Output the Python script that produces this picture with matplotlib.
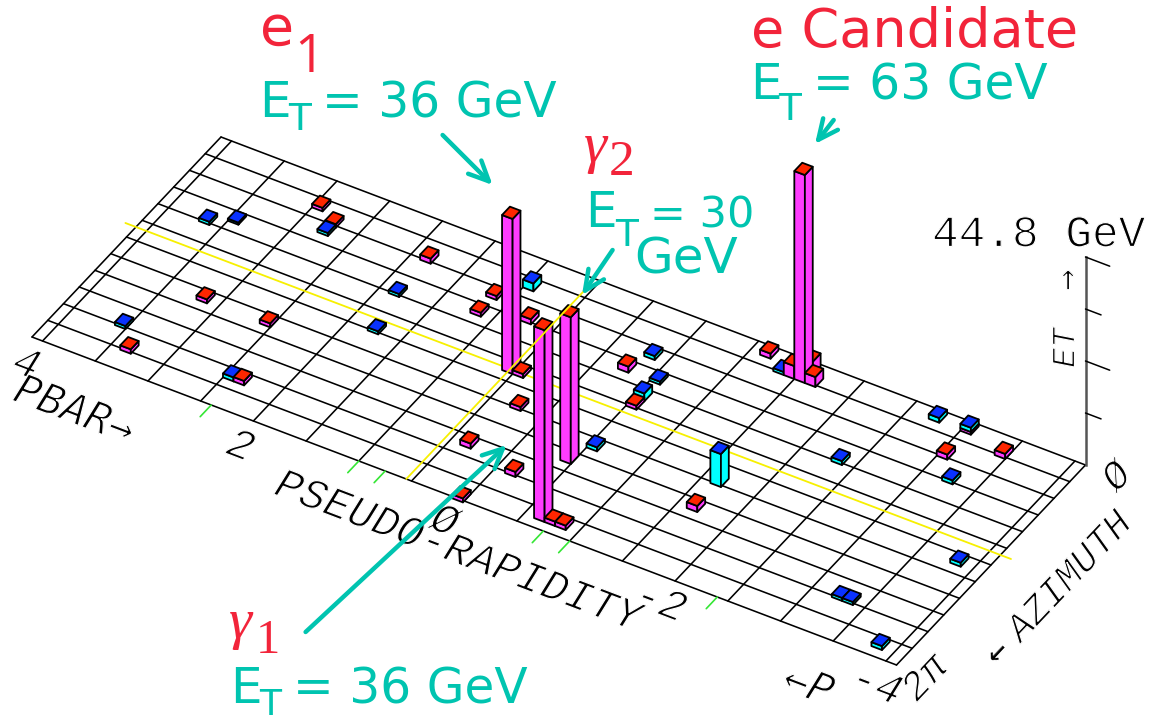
import matplotlib
matplotlib.use("Agg")
import matplotlib.pyplot as plt
import matplotlib.patheffects as pe
from matplotlib.patches import Polygon
import numpy as np

# ---------- data ----------
tower_eta = [3.65, 3.45, 2.95, 2.75, 2.75, 1.85, 1.85, 3.15, 2.55, 1.75, 3.55, 3.35, 2.45, 2.35,
             1.15, 0.95, 1.15, 0.75, 0.45, 0.25, 0.55, -0.65, -0.75, -0.85, -0.45,
             -1.15, -1.35, -1.45, -1.55, -1.55, -1.65, -0.35, -0.25, -0.55, -0.55, -0.55,
             -2.75, -3.05, -3.05, -3.45, -3.25, -2.35, -0.55, -1.65, -1.65, -3.85, -3.25, -3.35, -3.85,
             0.35, -0.15, 0.05]
tower_phi = [112.5, 97.5, 37.5, 52.5, 67.5, 52.5, 112.5, 217.5, 217.5, 172.5, 292.5, 322.5, 307.5, 307.5,
             67.5, 37.5, 97.5, 82.5, 157.5, 202.5, 157.5, 337.5, 337.5, 337.5, 247.5,
             7.5, 22.5, 22.5, 7.5, 22.5, 22.5, 67.5, 97.5, 97.5, 127.5, 142.5,
             7.5, 7.5, 52.5, 22.5, 82.5, 112.5, 217.5, 202.5, 247.5, 187.5, 292.5, 292.5, 337.5,
             277.5, 292.5, 352.5]
tower_em = [0, 0, 0.75, 0.75, 0, 1.1, 0, 0.85, 0.85, 0, 0, 0.95, 0, 0.95,
            0.85, 0, 0.85, 1.1, 0.85, 0.85, 33.4, 41.3, 0.95, 0.95, 31.6,
            1.1, 0, 2.8, 2.8, 44.8, 2.15, 0, 1.3, 0, 0, 0.85,
            0, 0.6, 1.1, 1.1, 0, 0, 0, 0, 1.3, 0, 0, 0, 0,
            1.1, 1.1, 0.85]
tower_had = [0.7, 0.45, 0, 0, 0.65, 0, 0.65, 0, 0, 0.65, 0.65, 0, 0.85, 0,
             0, 1.7, 0, 0, 0, 0, 0, 0, 0, 0, 0,
             0, 0.65, 0, 0, 0, 0, 0.85, 0, 0.65, 1.7, 0,
             1.0, 0.9, 0, 0, 0.85, 0.85, 0.85, 7.1, 0, 0.85, 0.65, 0.65, 0.85,
             0, 0, 0]
eta_ticks = [4.0 - 0.5 * i for i in range(17)]
phi_ticks = [30 * i for i in range(13)]
marker_eta = [2.4, 1.0, 0.75, -0.75, -1.0, -2.4]
et_ticks = [0, 11.2, 22.4, 33.6, 44.8]
yellow_phi = 162.0
yellow_eta = 0.55

# ---------- view ----------
ORIGIN = np.array([221.0, 137.0])
EU = np.array([864.5, 328.0])
EV = np.array([-189.0, 200.0])
ETA_MAX = 4.1
PX_PER_GEV = 208.0 / 44.8
PHI_SHIFT = 2.5

def project(eta, phi, et=0.0):
    u = (ETA_MAX - eta) / (2 * ETA_MAX)
    v = phi / 360.0
    p = ORIGIN + u * EU + v * EV
    return p[0], p[1] - et * PX_PER_GEV

fig = plt.figure(figsize=(11.59, 7.23), dpi=100)
ax = fig.add_axes([0, 0, 1, 1])
ax.set_xlim(0, 1159)
ax.set_ylim(723, 0)
ax.axis("off")

RED, BLUE, MAG, CYAN = "#FF2600", "#0A32FF", "#FF3CFF", "#00FFFF"
TEAL, LABELRED = "#00C4B0", "#F2243A"

def seg(a, b, **kw):
    ax.plot([a[0], b[0]], [a[1], b[1]], solid_capstyle="round", **kw)

# grid
gkw = dict(color="black", lw=1.15, zorder=2)
for e in [ETA_MAX] + eta_ticks + [-ETA_MAX]:
    seg(project(e, 0), project(e, 360), **gkw)
for ph in phi_ticks:
    seg(project(ETA_MAX, ph), project(-ETA_MAX, ph), **gkw)
for e in marker_eta:
    seg(project(e, 360), project(e, 381), color="#35E635", lw=1.2, zorder=2)

# yellow long line (under the towers)
seg(project(4.2, yellow_phi), project(-4.2, yellow_phi), color="#F7F000", lw=1.3, zorder=3)

# towers, back to front
def face(pts, col, z):
    ax.add_patch(Polygon(pts, closed=True, facecolor=col, edgecolor="black", lw=1.3,
                         joinstyle="round", zorder=z))

DETA, DPHI = 0.1, 15.0
order = sorted(range(len(tower_eta)),
               key=lambda i: (ETA_MAX - tower_eta[i]) / (2 * ETA_MAX) * EU[1] + tower_phi[i] / 360 * EV[1])
for k, i in enumerate(order):
    e, ph = tower_eta[i], tower_phi[i] + PHI_SHIFT
    em, had = tower_em[i], tower_had[i]
    z = 10 + k
    eL, eR = e + DETA / 2, e - DETA / 2
    p0, p1 = ph - DPHI / 2, ph + DPHI / 2
    levels = []
    if em > 0:
        levels.append((0, em, MAG))
    if had > 0:
        levels.append((em, em + had, CYAN))
    for lo, hi, col in levels:
        face([project(eL, p1, lo), project(eR, p1, lo), project(eR, p1, hi), project(eL, p1, hi)], col, z)
        face([project(eR, p1, lo), project(eR, p0, lo), project(eR, p0, hi), project(eR, p1, hi)], col, z)
    top = em + had
    face([project(eL, p0, top), project(eR, p0, top), project(eR, p1, top), project(eL, p1, top)],
         BLUE if had > 0 else RED, z)

# yellow cross line (drawn over towers)
seg(project(yellow_eta, 360), project(yellow_eta, 21), color="#F7F000", lw=1.3, zorder=90)

# ET axis
base = project(-ETA_MAX, 0)
ax.plot([base[0], base[0]], [base[1], base[1] - 44.8 * PX_PER_GEV], color="#555555", lw=1.8, zorder=5)
for j, t in enumerate(et_ticks[1:]):
    ln = 0.028 if j % 2 else 0.018
    a = np.array([base[0], base[1] - t * PX_PER_GEV])
    b = a + ln * EU
    seg(a, b, color="black", lw=1.1, zorder=5)

# axis texts
thin = [pe.Normal(), pe.Stroke(linewidth=0.9, foreground="white")]
MONO = ["Liberation Mono", "DejaVu Sans Mono"]
MONO2 = ["DejaVu Sans Mono"]
ROT_E = -20.8
ROT_P = 46.6

def axtext(x, y, s, size=31, rot=ROT_E, style="italic", fam=MONO, effects=thin):
    ax.text(x, y, s, fontsize=size, rotation=rot, rotation_mode="anchor", ha="center", va="center",
            family=fam, style=style, color="black", path_effects=effects, zorder=95)

axtext(26, 365, "4")
axtext(74, 411, "PBAR\u2192", fam=MONO2, size=30)
axtext(240, 447, "2")
axtext(457, 552, "PSEUDO-RAPIDITY")
axtext(444, 522, "\u00d8")
axtext(660, 603, "-2")
axtext(808, 686, "\u2190P", fam=MONO2, size=30)
axtext(876, 686, "-4")
axtext(925, 678, "2\u03c0", size=29, rot=ROT_P)
axtext(1070, 577, "AZIMUTH", size=28, rot=ROT_P)
axtext(998, 652, "\u2190", size=24, rot=ROT_P, fam=MONO2, effects=None)
axtext(1117, 477, "\u00d8", size=29, rot=ROT_P)
axtext(1066, 348, "ET", size=24, rot=90)
axtext(1068, 280, "\u2192", size=26, rot=90, style="normal", fam=MONO2, effects=thin)
ax.text(932, 235, "44.8 GeV", fontsize=32, family=MONO, ha="left", va="center", color="black",
        path_effects=thin, zorder=95)

# annotations
SANS = "DejaVu Sans"
SERIF = "Liberation Serif"
def lab(x, y, s, size=35, col=TEAL, fam=SANS, **kw):
    ax.text(x, y, s, fontsize=size, color=col, family=fam, ha="left", va="baseline", zorder=100, **kw)

lab(260, 45, "e", col=LABELRED, size=40)
lab(294, 72, "1", col=LABELRED, size=38, fam="Open Sans")
lab(259, 117, "E", size=36); lab(288, 130, "T", size=27); lab(322, 117, "= 36 GeV")

lab(751, 47, "e Candidate", col=LABELRED, size=39)
lab(750, 99, "E", size=36); lab(778, 120, "T", size=27); lab(813, 99, "= 63 GeV")

lab(584, 162, "\u03b3", col=LABELRED, size=42, fam=SERIF, style="italic")
lab(609, 175, "2", col=LABELRED, size=37, fam=SERIF)
lab(585, 227, "E", size=36); lab(615, 246, "T", size=27); lab(650, 227, "= 30", size=31)
lab(634, 273, "GeV", size=36)

lab(229, 638, "\u03b3", col=LABELRED, size=42, fam=SERIF, style="italic")
lab(256, 653, "1", col=LABELRED, size=35, fam=SERIF)
lab(230, 703, "E", size=36); lab(259, 715, "T", size=26); lab(293, 703, "= 36 GeV")

# arrows
for start, end in [((442.6, 135), (492.6, 185)), ((833.7, 120), (815, 144)),
                   ((612.6, 250), (582, 295)), ((305.6, 632), (506.7, 445))]:
    ax.annotate("", xy=end, xytext=start, zorder=99,
                arrowprops=dict(arrowstyle="->,head_length=0.6,head_width=0.28", color=TEAL, lw=3.2,
                                shrinkA=0, shrinkB=0, mutation_scale=24))

fig.savefig("out.png", dpi=100)
